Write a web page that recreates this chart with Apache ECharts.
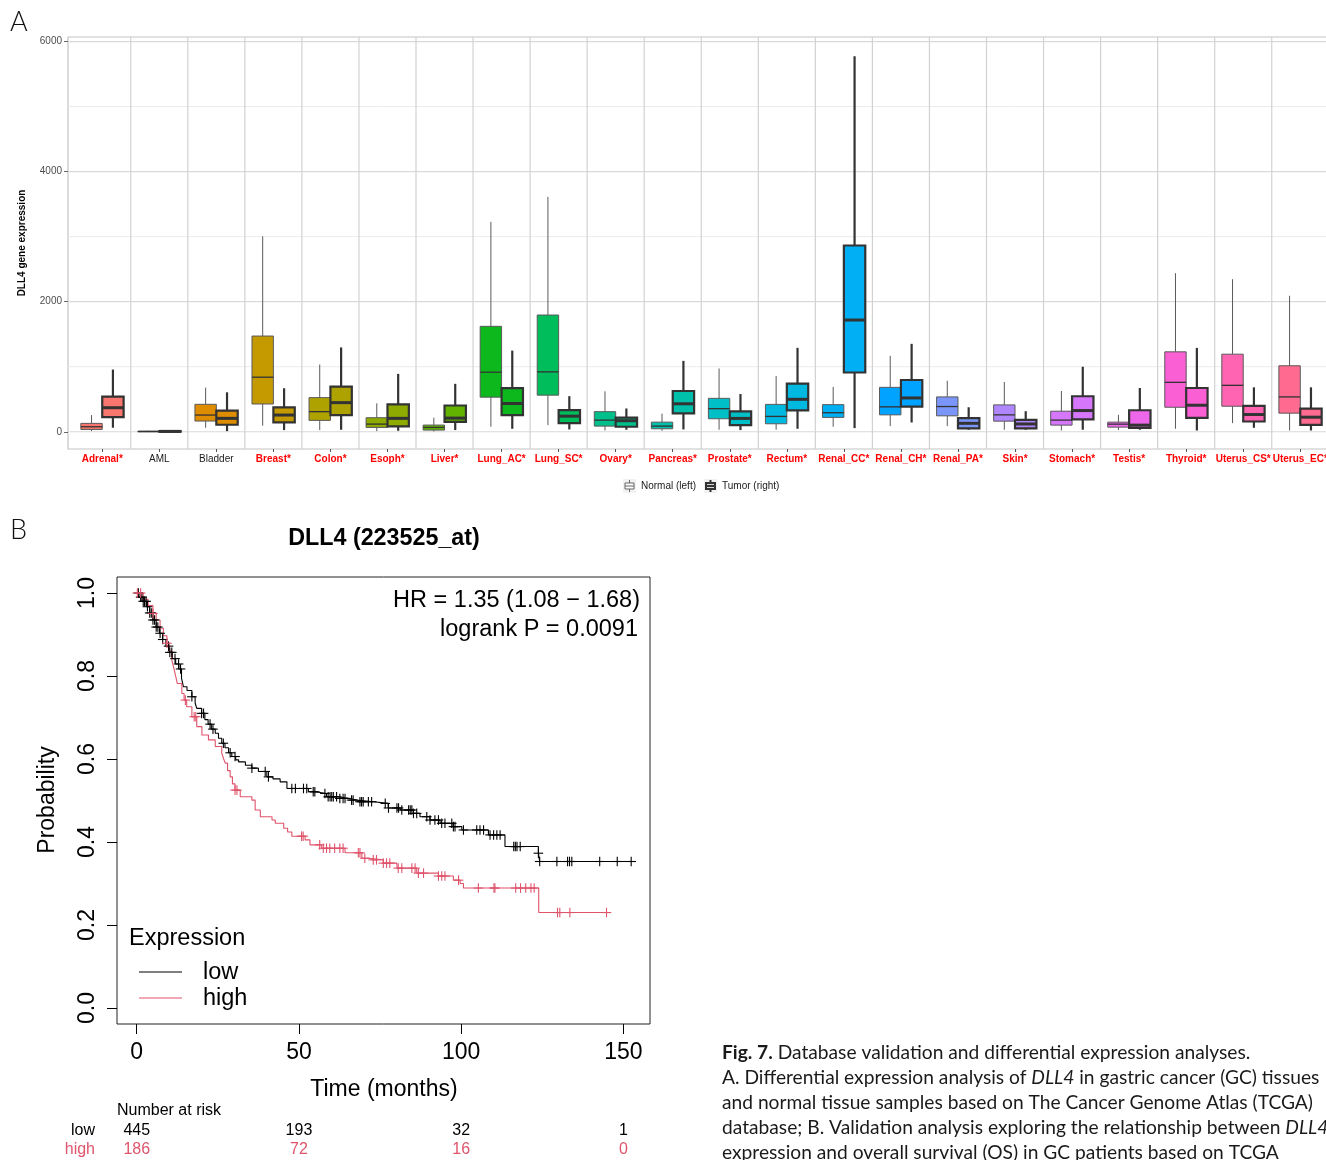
<!DOCTYPE html>
<html>
<head>
<meta charset="utf-8">
<script src="https://cdn.jsdelivr.net/npm/echarts@6/dist/echarts.min.js"></script>
<style>
  html, body { margin: 0; padding: 0; background: #ffffff; }
  #chart { width: 1326px; height: 1160px; }
</style>
</head>
<body>
<div id="chart"></div>
<script>
// ---------- Panel A: DLL4 expression per tissue (normal vs tumor) ----------
const tissues = ['Adrenal*', 'AML', 'Bladder', 'Breast*', 'Colon*', 'Esoph*', 'Liver*', 'Lung_AC*',
  'Lung_SC*', 'Ovary*', 'Pancreas*', 'Prostate*', 'Rectum*', 'Renal_CC*', 'Renal_CH*', 'Renal_PA*',
  'Skin*', 'Stomach*', 'Testis*', 'Thyroid*', 'Uterus_CS*', 'Uterus_EC*'];

const tissueColors = ['#F8766D', '#EA8331', '#DE8C00', '#C49A00', '#ADA200', '#8DAB00', '#62B300', '#0DB81C',
  '#00BD5C', '#00BF8A', '#00C0AB', '#00BFC6', '#00B9E0', '#00AFF4', '#00A3FF', '#7A96FA',
  '#B086FC', '#D676FB', '#EE66E9', '#FB5FD4', '#FF64B3', '#FF6A91'];

// [whisker low, Q1, median, Q3, whisker high]
const normalStats = [
  [10, 36, 77, 129, 257], [0, 2, 5, 8, 15], [62, 165, 257, 422, 679], [93, 427, 839, 1472, 3005],
  [26, 175, 309, 525, 1034], [10, 67, 118, 216, 437], [5, 26, 67, 103, 216], [77, 532, 916, 1621, 3228],
  [102, 563, 921, 1795, 3611], [20, 87, 179, 309, 622], [15, 46, 87, 148, 278], [31, 200, 355, 514, 973],
  [31, 123, 236, 421, 858], [77, 221, 293, 417, 689], [87, 260, 383, 683, 1168], [87, 245, 388, 536, 785],
  [31, 163, 260, 413, 765], [20, 102, 179, 316, 627], [26, 71, 117, 148, 260], [46, 377, 760, 1229, 2438],
  [133, 393, 714, 1193, 2346], [20, 286, 536, 1015, 2091]
];
const tumorStats = [
  [62, 226, 370, 540, 957], [0, 3, 6, 10, 18], [10, 108, 206, 324, 607], [26, 144, 257, 376, 669],
  [31, 257, 448, 695, 1297], [15, 82, 206, 422, 890], [26, 153, 210, 404, 737], [46, 256, 435, 670, 1248],
  [36, 133, 240, 332, 547], [31, 77, 170, 216, 358], [36, 283, 430, 627, 1090], [26, 102, 205, 313, 580],
  [46, 329, 499, 741, 1291], [56, 911, 1718, 2864, 5774], [143, 388, 520, 796, 1352], [31, 51, 130, 209, 377],
  [31, 51, 120, 184, 316], [31, 189, 326, 546, 1000], [31, 61, 102, 331, 673], [20, 214, 408, 673, 1290],
  [61, 158, 265, 398, 683], [20, 107, 224, 357, 683]
];

const exprTicks = [0, 2000, 4000, 6000];
const exprMinorGrid = [1000, 3000, 5000];

// ---------- Panel B: Kaplan-Meier overall survival ----------
// [time (months), survival probability] at each drop
const lowCurve = [[0, 1], [1, 0.99], [2, 0.98], [3, 0.967], [4, 0.952], [5, 0.935], [6, 0.918], [7, 0.903],
  [8, 0.888], [9, 0.872], [10, 0.857], [11, 0.842], [12, 0.829], [13, 0.817], [13.8, 0.795], [14.4, 0.774],
  [15.5, 0.765], [17, 0.75], [18, 0.735], [18.5, 0.722], [20, 0.71], [21, 0.695], [22, 0.684], [23, 0.672],
  [24.2, 0.662], [25.2, 0.65], [26.2, 0.638], [27.2, 0.627], [28.3, 0.615], [29.3, 0.606], [30.5, 0.598],
  [31.4, 0.593], [33.5, 0.585], [35.5, 0.578], [37.5, 0.57], [40.1, 0.557], [42, 0.552], [44.2, 0.545],
  [46.3, 0.529], [52.9, 0.521], [55, 0.517], [58.5, 0.509], [62, 0.505], [65.7, 0.501], [67.8, 0.497],
  [73, 0.493], [77.5, 0.482], [81.2, 0.477], [85.3, 0.469], [87.3, 0.461], [90.4, 0.453], [93.5, 0.445],
  [97.5, 0.437], [100.2, 0.429], [108.4, 0.417], [113.5, 0.389], [123.8, 0.373], [124.2, 0.353], [152.4, 0.353]];

const highCurve = [[0, 1], [2, 0.985], [3.5, 0.97], [5, 0.951], [6, 0.935], [7.2, 0.915], [8.2, 0.897],
  [9.3, 0.879], [10, 0.86], [10.8, 0.839], [11.4, 0.82], [12, 0.8], [12.5, 0.782], [13.9, 0.758],
  [14.6, 0.742], [15.4, 0.726], [17, 0.702], [18.5, 0.678], [20.1, 0.658], [22.1, 0.646], [24.2, 0.63],
  [26.2, 0.614], [26.8, 0.6], [27.3, 0.59], [28, 0.572], [28.8, 0.557], [29.5, 0.54], [30.3, 0.525],
  [31.9, 0.509], [35.5, 0.501], [36.5, 0.477], [38.1, 0.461], [41.7, 0.453], [42.7, 0.445], [45.3, 0.433],
  [46.5, 0.424], [47.8, 0.414], [51.9, 0.405], [53.4, 0.393], [57, 0.385], [64.2, 0.374], [69.4, 0.361],
  [71.4, 0.357], [76, 0.349], [80.2, 0.337], [86.3, 0.325], [93, 0.318], [97.6, 0.308], [99.7, 0.3],
  [100.7, 0.289], [123.9, 0.23], [144.8, 0.23]];

// censoring times (months)
const lowCensor = [0.5, 1.2, 1.6, 2.0, 2.4, 2.9, 3.3, 4.0, 4.5, 5.0, 5.5, 6.0, 6.5, 7.2, 8.0, 9.8, 10.2, 10.8,
  11.8, 12.9, 13.5, 17.0, 20.0, 20.6, 22.6, 23.5, 26.7, 28.8, 30.3, 35.5, 39.6, 40.6, 47.8, 48.9, 51.4, 52.4,
  54.4, 54.9, 58.0, 59.0, 59.6, 60.1, 60.6, 61.6, 62.6, 63.6, 64.2, 66.2, 66.7, 68.8, 69.3, 69.8, 71.4, 72.4,
  76.6, 77.6, 80.2, 80.7, 81.7, 83.8, 84.3, 84.8, 85.3, 86.3, 89.4, 90.4, 91.9, 93.0, 94.0, 95.0, 97.1, 97.6,
  98.1, 100.7, 104.8, 105.8, 106.9, 108.9, 110.0, 111.0, 112.0, 116.2, 116.7, 117.2, 118.2, 123.8, 124.2,
  129.5, 132.8, 133.4, 134.1, 142.7, 148.1, 152.4];
const highCensor = [0.2, 1.2, 5.0, 9.3, 15.0, 17.7, 18.2, 30.3, 30.9, 50.8, 51.3, 56.4, 57.5, 58.5, 59.5,
  61.0, 62.6, 63.6, 68.3, 68.8, 70.3, 72.9, 73.9, 76.0, 77.0, 78.0, 80.6, 81.7, 84.8, 85.8, 86.8, 88.4, 93.0,
  94.0, 95.0, 99.2, 105.3, 110.1, 110.4, 116.8, 118.3, 119.9, 121.5, 122.5, 129.7, 130.4, 133.5, 144.8];

const timeTicks = [0, 50, 100, 150];
const probTicks = [0, 0.2, 0.4, 0.6, 0.8, 1.0];
const riskLow = [445, 193, 32, 1];
const riskHigh = [186, 72, 16, 0];

const captionLines = [
  '{b|Fig. 7.} Database validation and differential expression analyses.',
  'A. Differential expression analysis of {i|DLL4} in gastric cancer (GC) tissues',
  'and normal tissue samples based on The Cancer Genome Atlas (TCGA)',
  'database; B. Validation analysis exploring the relationship between {i|DLL4}',
  'expression and overall survival (OS) in GC patients based on TCGA'
];

// ---------- drawing ----------
const FA = '"Liberation Sans", Arial, sans-serif';
const FC = 'Lato, "Open Sans", sans-serif';
const LOW_C = '#000000';
const HIGH_C = '#DF536B';
const DODGE = 0.1875;
const BOXW = 0.375;

const boxData = [];
tissues.forEach((t, i) => {
  boxData.push([i - DODGE].concat(normalStats[i], [i, 0]));
  boxData.push([i + DODGE].concat(tumorStats[i], [i, 1]));
});

function renderBox(params, api) {
  const x = api.value(0);
  const lo = api.coord([x, api.value(1)]);
  const q1 = api.coord([x, api.value(2)]);
  const md = api.coord([x, api.value(3)]);
  const q3 = api.coord([x, api.value(4)]);
  const hi = api.coord([x, api.value(5)]);
  const w = api.size([BOXW, 0])[0];
  const ci = api.value(6);
  const tumor = api.value(7) === 1;
  const stroke = tumor ? '#333333' : '#5a5a5a';
  const lw = tumor ? 2.2 : 1;
  const mw = tumor ? 3 : 1.3;
  return {
    type: 'group', children: [
      { type: 'line', shape: { x1: lo[0], y1: lo[1], x2: lo[0], y2: q1[1] }, style: { stroke: stroke, lineWidth: lw } },
      { type: 'line', shape: { x1: hi[0], y1: hi[1], x2: hi[0], y2: q3[1] }, style: { stroke: stroke, lineWidth: lw } },
      { type: 'rect', shape: { x: q3[0] - w / 2, y: q3[1], width: w, height: Math.max(q1[1] - q3[1], 0.6) },
        style: { fill: tissueColors[ci], stroke: stroke, lineWidth: lw } },
      { type: 'line', shape: { x1: md[0] - w / 2, y1: md[1], x2: md[0] + w / 2, y2: md[1] },
        style: { stroke: '#333333', lineWidth: mw } }
    ]
  };
}

// horizontal / vertical reference lines spanning a grid
function hLineRenderer(color, width) {
  return function (params, api) {
    const cs = params.coordSys;
    const y = api.coord([0, api.value(0)])[1];
    return { type: 'line', shape: { x1: cs.x, y1: y, x2: cs.x + cs.width, y2: y }, style: { stroke: color, lineWidth: width } };
  };
}
function vLineRenderer(color, width) {
  return function (params, api) {
    const cs = params.coordSys;
    const x = api.coord([api.value(0), 0])[0];
    return { type: 'line', shape: { x1: x, y1: cs.y, x2: x, y2: cs.y + cs.height }, style: { stroke: color, lineWidth: width } };
  };
}

function survAt(curve, t) {
  let s = curve[0][1];
  for (const p of curve) { if (p[0] <= t) s = p[1]; else break; }
  return s;
}
function renderCensor(color) {
  return function (params, api) {
    const p = api.coord([api.value(0), api.value(1)]);
    const h = 4.8;
    return {
      type: 'group', children: [
        { type: 'line', shape: { x1: p[0], y1: p[1] - h, x2: p[0], y2: p[1] + h }, style: { stroke: color, lineWidth: 1.1 } },
        { type: 'line', shape: { x1: p[0] - h, y1: p[1], x2: p[0] + h, y2: p[1] }, style: { stroke: color, lineWidth: 1.1 } }
      ]
    };
  };
}

const tissueIdx = tissues.map((_, i) => i);
const boundaries = tissues.slice(1).map((_, i) => i + 0.5);

const chart = echarts.init(document.getElementById('chart'), null, { renderer: 'canvas', width: 1326, height: 1160 });

const option = {
  animation: false,
  backgroundColor: '#ffffff',
  grid: [
    // the expression panel runs a few pixels past the right edge of the page
    { left: 68, top: 37, width: 1266.5, height: 412, show: true, borderColor: '#c4c4c4', borderWidth: 1.2,
      outerBoundsMode: 'none', containLabel: false },
    { left: 117, top: 577, width: 533, height: 447, show: true, borderColor: '#222222', borderWidth: 1,
      outerBoundsMode: 'none', containLabel: false }
  ],
  xAxis: [
    {
      gridIndex: 0, type: 'value', min: -0.6, max: 21.6,
      axisLine: { show: false, onZero: false }, splitLine: { show: false },
      axisTick: { show: true, customValues: tissueIdx, length: 3, lineStyle: { color: '#555555' } },
      axisLabel: {
        customValues: tissueIdx, margin: 5,
        formatter: function (v) {
          const n = tissues[Math.round(v)];
          return n.endsWith('*') ? '{r|' + n + '}' : '{k|' + n + '}';
        },
        rich: {
          r: { color: '#ff0000', fontWeight: 'bold', fontSize: 10, fontFamily: FA },
          k: { color: '#1a1a1a', fontSize: 10, fontFamily: FA }
        }
      }
    },
    {
      gridIndex: 1, type: 'value', min: -6.08, max: 158.2,
      axisLine: { show: false, onZero: false }, splitLine: { show: false },
      axisTick: { show: true, customValues: timeTicks, length: 10, lineStyle: { color: '#000', width: 1 } },
      axisLabel: { customValues: timeTicks, margin: 17, fontSize: 23, fontFamily: FA, color: '#000' }
    }
  ],
  yAxis: [
    {
      gridIndex: 0, type: 'value', min: -265, max: 6070,
      axisLine: { show: false, onZero: false }, splitLine: { show: false },
      axisTick: { show: true, customValues: exprTicks, length: 4, lineStyle: { color: '#666666' } },
      axisLabel: { customValues: exprTicks, margin: 6, fontSize: 10, fontFamily: FA, color: '#4d4d4d',
        formatter: v => String(v) }
    },
    {
      gridIndex: 1, type: 'value', min: -0.0386, max: 1.0386,
      axisLine: { show: false, onZero: false }, splitLine: { show: false },
      axisTick: { show: true, customValues: probTicks, length: 10, lineStyle: { color: '#000', width: 1 } },
      axisLabel: { customValues: probTicks, margin: 18, rotate: 90, fontSize: 23, fontFamily: FA, color: '#000',
        formatter: v => v.toFixed(1) }
    }
  ],
  series: [
    { type: 'custom', name: 'minorGrid', xAxisIndex: 0, yAxisIndex: 0, z: 1, silent: true, clip: false,
      data: exprMinorGrid.map(v => [v]), renderItem: hLineRenderer('#ebebeb', 1) },
    { type: 'custom', name: 'majorGrid', xAxisIndex: 0, yAxisIndex: 0, z: 1, silent: true, clip: false,
      data: exprTicks.map(v => [v]), renderItem: hLineRenderer('#d9d9d9', 1.2) },
    { type: 'custom', name: 'tissueSep', xAxisIndex: 0, yAxisIndex: 0, z: 1, silent: true, clip: false,
      data: boundaries.map(v => [v]), renderItem: vLineRenderer('#d2d2d2', 1.2) },
    { type: 'custom', name: 'boxes', xAxisIndex: 0, yAxisIndex: 0, z: 3, silent: true,
      dimensions: ['x', 'lo', 'q1', 'med', 'q3', 'hi', 'tissue', 'group'],
      encode: { x: 0, y: [1, 2, 3, 4, 5] },
      data: boxData, renderItem: renderBox },

    { type: 'line', name: 'low', xAxisIndex: 1, yAxisIndex: 1, step: 'end', showSymbol: false, z: 3,
      data: lowCurve, lineStyle: { color: LOW_C, width: 1.1 }, itemStyle: { color: LOW_C } },
    { type: 'line', name: 'high', xAxisIndex: 1, yAxisIndex: 1, step: 'end', showSymbol: false, z: 3,
      data: highCurve, lineStyle: { color: HIGH_C, width: 1.1 }, itemStyle: { color: HIGH_C } },
    { type: 'custom', name: 'lowCensor', xAxisIndex: 1, yAxisIndex: 1, z: 4, silent: true,
      data: lowCensor.map(t => [t, survAt(lowCurve, t)]), renderItem: renderCensor(LOW_C) },
    { type: 'custom', name: 'highCensor', xAxisIndex: 1, yAxisIndex: 1, z: 4, silent: true,
      data: highCensor.map(t => [t, survAt(highCurve, t)]), renderItem: renderCensor(HIGH_C) }
  ]
};
chart.setOption(option);

// ---------- text, legends and annotations ----------
const g = [];
function txt(x, y, text, o) {
  o = o || {};
  g.push({
    type: 'text', x: x, y: y, rotation: o.rotation || 0, z: 10, silent: true,
    style: {
      text: text, fill: o.fill || '#000', fontSize: o.size || 12, fontFamily: o.family || FA,
      fontWeight: o.weight || 'normal', align: o.align || 'left', verticalAlign: o.valign || 'middle',
      rich: o.rich
    }
  });
}
function seg(x1, y1, x2, y2, color, w) {
  g.push({ type: 'line', z: 10, silent: true, shape: { x1, y1, x2, y2 }, style: { stroke: color, lineWidth: w } });
}

// panel letters
txt(10, 22, 'A', { size: 27, family: FC, weight: 300, fill: '#111' });
txt(10, 530, 'B', { size: 27, family: FC, weight: 300, fill: '#111' });

// panel A axis title
txt(22, 243, 'DLL4 gene expression', { size: 10, weight: 'bold', align: 'center', rotation: Math.PI / 2 });

// panel A legend
function legendKey(x, y, dark) {
  const stroke = dark ? '#333333' : '#666666';
  const lw = dark ? 2 : 1;
  g.push({ type: 'rect', z: 10, silent: true, shape: { x: x - 1, y: y - 7, width: 13, height: 14 },
    style: { fill: '#f2f2f2', stroke: 'none' } });
  seg(x + 5.5, y - 6, x + 5.5, y - 3, stroke, lw);
  seg(x + 5.5, y + 3, x + 5.5, y + 6, stroke, lw);
  g.push({ type: 'rect', z: 10, silent: true, shape: { x: x + 1, y: y - 3, width: 9, height: 6 },
    style: { fill: '#ffffff', stroke: stroke, lineWidth: lw } });
  seg(x + 1, y, x + 10, y, stroke, dark ? 2.4 : 1);
}
legendKey(624, 486, false);
txt(641, 486, 'Normal (left)', { size: 10, fill: '#1a1a1a' });
legendKey(705, 486, true);
txt(722, 486, 'Tumor (right)', { size: 10, fill: '#1a1a1a' });

// panel B titles
txt(384, 539, 'DLL4 (223525_at)', { size: 23.3, weight: 'bold', align: 'center' });
txt(48, 800, 'Probability', { size: 23, align: 'center', rotation: Math.PI / 2 });
txt(384, 1090, 'Time (months)', { size: 23, align: 'center' });
txt(640, 601, 'HR = 1.35 (1.08 \u2212 1.68)', { size: 23.5, align: 'right' });
txt(638, 630, 'logrank P = 0.0091', { size: 23.5, align: 'right' });

// panel B legend
txt(129, 939, 'Expression', { size: 23.5 });
seg(139, 972, 182, 972, LOW_C, 1.1);
txt(203, 973, 'low', { size: 23.5 });
seg(139, 998, 182, 998, HIGH_C, 1.1);
txt(203, 999, 'high', { size: 23.5 });

// number at risk
txt(117, 1111, 'Number at risk', { size: 16 });
txt(95, 1131, 'low', { size: 16, align: 'right', fill: LOW_C });
txt(95, 1150, 'high', { size: 16, align: 'right', fill: HIGH_C });
timeTicks.forEach((t, k) => {
  const px = chart.convertToPixel({ xAxisIndex: 1 }, t);
  txt(px, 1131, String(riskLow[k]), { size: 16, align: 'center', fill: LOW_C });
  txt(px, 1150, String(riskHigh[k]), { size: 16, align: 'center', fill: HIGH_C });
});

// figure caption
const CAP = 19.2;
const capRich = {
  b: { fontWeight: 'bold', fontSize: CAP, fontFamily: FC, fill: '#1a1a1a' },
  i: { fontStyle: 'italic', fontSize: CAP, fontFamily: FC, fill: '#1a1a1a' }
};
captionLines.forEach((line, k) => {
  txt(722, 1053 + k * 25, line, { size: CAP, family: FC, fill: '#1a1a1a', rich: capRich });
});

chart.setOption({ graphic: { elements: g } });
</script>
</body>
</html>
